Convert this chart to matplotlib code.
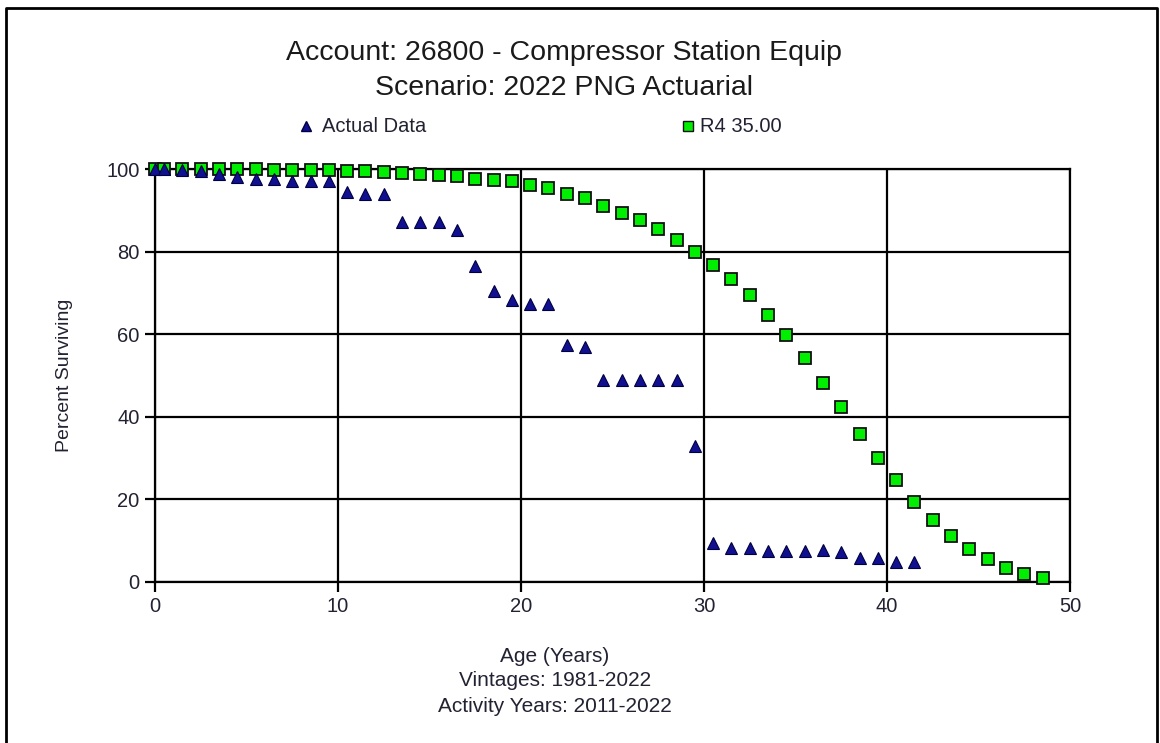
import matplotlib.pyplot as plt
from matplotlib.lines import Line2D

# ages (years) and percent surviving
actual_age = [0, 0.5, 1.5, 2.5, 3.5, 4.5, 5.5, 6.5, 7.5, 8.5, 9.5, 10.5, 11.5, 12.5,
              13.5, 14.5, 15.5, 16.5, 17.5, 18.5, 19.5, 20.5, 21.5, 22.5, 23.5, 24.5,
              25.5, 26.5, 27.5, 28.5, 29.5, 30.5, 31.5, 32.5, 33.5, 34.5, 35.5, 36.5,
              37.5, 38.5, 39.5, 40.5, 41.5]
actual_pct = [100, 100, 99.8, 99.5, 98.8, 98.0, 97.6, 97.5, 97.2, 97.1, 97.0, 94.4, 93.9, 94.0,
              87.2, 87.2, 87.2, 85.2, 76.5, 70.5, 68.2, 67.4, 67.4, 57.3, 56.9, 48.8,
              48.8, 48.8, 48.8, 48.8, 32.9, 9.4, 8.2, 8.2, 7.6, 7.6, 7.6, 7.7,
              7.2, 5.9, 5.9, 4.9, 4.9]

curve_age = [0, 0.5, 1.5, 2.5, 3.5, 4.5, 5.5, 6.5, 7.5, 8.5, 9.5, 10.5, 11.5, 12.5,
             13.5, 14.5, 15.5, 16.5, 17.5, 18.5, 19.5, 20.5, 21.5, 22.5, 23.5, 24.5,
             25.5, 26.5, 27.5, 28.5, 29.5, 30.5, 31.5, 32.5, 33.5, 34.5, 35.5, 36.5,
             37.5, 38.5, 39.5, 40.5, 41.5, 42.5, 43.5, 44.5, 45.5, 46.5, 47.5, 48.5]
curve_pct = [100, 100, 100, 100, 99.9, 99.9, 99.9, 99.8, 99.8, 99.7, 99.7, 99.6, 99.6, 99.4,
             99.1, 98.8, 98.6, 98.2, 97.7, 97.4, 97.0, 96.1, 95.3, 94.0, 93.0, 91.1,
             89.3, 87.7, 85.4, 82.9, 79.8, 76.8, 73.3, 69.5, 64.7, 59.9, 54.3, 48.3,
             42.3, 35.9, 30.0, 24.6, 19.4, 15.1, 11.2, 8.1, 5.5, 3.5, 2.0, 1.0]

txt = '#222233'
plt.rcParams['font.family'] = ['Liberation Sans', 'DejaVu Sans']

fig = plt.figure(figsize=(11.6, 7.43), dpi=100)
ax = fig.add_axes([0.1336, 0.2167, 0.7888, 0.5558])

ax.grid(True, color='black', linewidth=1.6)
ax.set_axisbelow(True)
ax.plot(curve_age, curve_pct, 's', color='#00ee00', markeredgecolor='#111111',
        markeredgewidth=1.3, markersize=8.5, clip_on=False, zorder=3, label='R4 35.00')
ax.plot(actual_age, actual_pct, '^', color='#101090', markeredgecolor='#000040',
        markeredgewidth=0.8, markersize=8.5, clip_on=False, zorder=4, label='Actual Data')

ax.set_xlim(0, 50)
ax.set_ylim(0, 100)
ax.set_xticks([0, 10, 20, 30, 40, 50])
ax.set_yticks([0, 20, 40, 60, 80, 100])
for s in ax.spines.values():
    s.set_linewidth(1.6)
ax.tick_params(axis='both', length=7, width=1.6, labelsize=14.5, labelcolor=txt, pad=4)

ax.set_ylabel('Percent Surviving', fontsize=14, color=txt, labelpad=24)

fig.text(0.486, 1 - 53 / 743, 'Account: 26800 - Compressor Station Equip', ha='center', va='center',
         fontsize=20.5, color='#1a1a1a')
fig.text(0.486, 1 - 88 / 743, 'Scenario: 2022 PNG Actuarial', ha='center', va='center',
         fontsize=20.5, color='#1a1a1a')

# legend row
fig.lines.append(Line2D([306 / 1160], [1 - 126 / 743], marker='^', color='#101090',
                        markeredgecolor='#000040', markersize=7, linestyle='none',
                        transform=fig.transFigure))
fig.text(322 / 1160, 1 - 126 / 743, 'Actual Data', ha='left', va='center', fontsize=14.5, color=txt)
fig.lines.append(Line2D([688 / 1160], [1 - 126 / 743], marker='s', color='#00ee00',
                        markeredgecolor='#111111', markersize=7, linestyle='none',
                        transform=fig.transFigure))
fig.text(700 / 1160, 1 - 126 / 743, 'R4 35.00', ha='left', va='center', fontsize=14.5, color=txt)

fig.text(555 / 1160, 1 - 657 / 743, 'Age (Years)', ha='center', va='center', fontsize=15, color=txt)
fig.text(555 / 1160, 1 - 681 / 743, 'Vintages: 1981-2022', ha='center', va='center', fontsize=15, color=txt)
fig.text(555 / 1160, 1 - 706 / 743, 'Activity Years: 2011-2022', ha='center', va='center', fontsize=15, color=txt)

# outer frame
x0, x1, y1 = 6 / 1160, 1157 / 1160, 1 - 8 / 743
fig.lines.append(Line2D([x0, x0, x1, x1], [0, y1, y1, 0], color='black', linewidth=2,
                        transform=fig.transFigure))

fig.savefig('out.png', dpi=100)
